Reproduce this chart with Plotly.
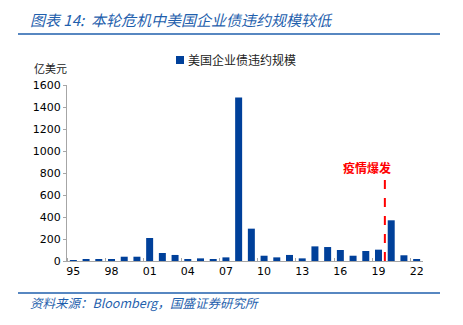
import plotly.graph_objects as go

years = ["95","96","97","98","99","00","01","02","03","04","05","06","07","08",
         "09","10","11","12","13","14","15","16","17","18","19","20","21","22"]
defaults = [9, 10, 15, 10, 39, 39, 209, 73, 55, 18, 24, 18, 33, 1487,
            294, 48, 33, 55, 24, 133, 127, 100, 48, 91, 103, 370, 52, 18]
tick_labels = ["95","98","01","04","07","10","13","16","19","22"]
series_name = "美国企业债违约规模"

W, H = 463, 325
L, R, T, B = 67, 40, 85, 64
pw, ph = W - L - R, H - T - B

def px(x):
    return (x - L) / pw

def py(y):
    return (H - B - y) / ph

idx = list(range(len(years)))
bar_color = "#00409A"
fig = go.Figure()
fig.add_trace(go.Bar(x=idx, y=defaults, name=series_name,
                     marker=dict(color=bar_color, line=dict(width=0)),
                     showlegend=False))

cjk = "Noto Sans CJK SC"
blue = "#1F5FAD"

fig.update_layout(
    width=W, height=H,
    margin=dict(l=L, r=R, t=T, b=B),
    paper_bgcolor="white", plot_bgcolor="white",
    bargap=0.45,
    xaxis=dict(range=[-0.5, 27.5], tickmode="array",
               tickvals=[years.index(t) for t in tick_labels], ticktext=tick_labels,
               ticks="", showline=True, linecolor="#A6A6A6", linewidth=1,
               showgrid=False, zeroline=False,
               tickfont=dict(family="DejaVu Sans", size=11, color="#000000"),
               minor=dict(tickmode="linear", tick0=-0.5, dtick=3, ticks="inside",
                          ticklen=3, tickcolor="#A6A6A6", showgrid=False)),
    yaxis=dict(range=[0, 1600], tickmode="linear", tick0=0, dtick=200,
               ticks="outside", ticklen=3, tickcolor="#A6A6A6",
               showline=True, linecolor="#A6A6A6", linewidth=1,
               showgrid=False, zeroline=False,
               tickfont=dict(family="DejaVu Sans", size=11, color="#000000")),
)

# legend (square key + label)
fig.add_shape(type="rect", xref="paper", yref="paper", x0=px(176), x1=px(184),
              y0=py(64), y1=py(56), fillcolor=bar_color, line=dict(width=0))
fig.add_annotation(xref="paper", yref="paper", x=px(186), y=py(60), xanchor="left",
                   yanchor="middle", showarrow=False, text=series_name,
                   font=dict(family=cjk, size=12, color="#222222"))

# dashed marker line at outbreak
fig.add_shape(type="line", xref="x", yref="y", x0=24.5, x1=24.5, y0=0, y1=750,
              line=dict(color="#FF0000", width=2, dash="dash"))
fig.add_annotation(xref="x", yref="y", x=23.1, y=848, text="<b>疫情爆发</b>",
                   showarrow=False, font=dict(family=cjk, size=12, color="#FF0000"))

# header / footer
fig.add_annotation(xref="paper", yref="paper", x=px(28), y=py(20), xanchor="left",
                   yanchor="middle", showarrow=False,
                   text="<i>图表 14:  本轮危机中美国企业债违约规模较低</i>",
                   font=dict(family=cjk, size=15, color=blue))
fig.add_shape(type="line", xref="paper", yref="paper", x0=px(18), x1=px(440),
              y0=py(34), y1=py(34), line=dict(color=blue, width=1.5))
fig.add_shape(type="line", xref="paper", yref="paper", x0=px(18), x1=px(440),
              y0=py(293), y1=py(293), line=dict(color=blue, width=1.5))
fig.add_annotation(xref="paper", yref="paper", x=px(28), y=py(302), xanchor="left",
                   yanchor="middle", showarrow=False,
                   text="<i>资料来源：Bloomberg，国盛证券研究所</i>",
                   font=dict(family=cjk, size=12.5, color=blue))
fig.add_annotation(xref="paper", yref="paper", x=px(32), y=py(68), xanchor="left",
                   yanchor="middle", showarrow=False, text="亿美元",
                   font=dict(family=cjk, size=11, color="#222222"))

fig.write_html("out.html")
